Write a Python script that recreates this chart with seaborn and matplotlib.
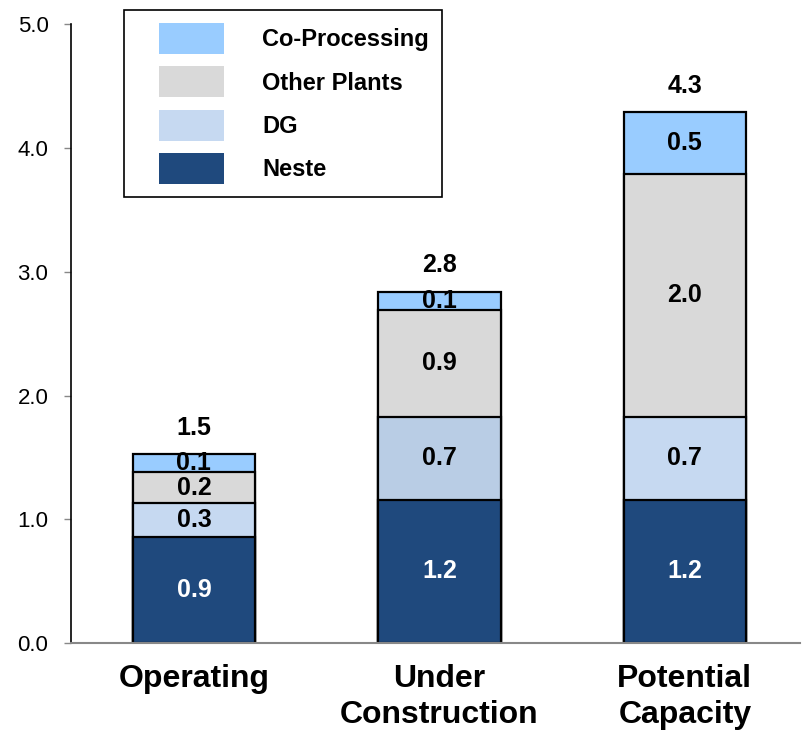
import numpy as np
import seaborn as sns
import matplotlib
matplotlib.use("Agg")
import matplotlib.pyplot as plt
from matplotlib.patches import Patch, Rectangle
from matplotlib.legend_handler import HandlerPatch

# Data (stack order: bottom -> top)
categories = ["Operating", "Under\nConstruction", "Potential\nCapacity"]
neste = [0.86, 1.16, 1.16]
dg = [0.27, 0.67, 0.67]
other_plants = [0.249, 0.86, 1.96]
co_processing = [0.149, 0.149, 0.50]
series_names = ["Neste", "DG", "Other Plants", "Co-Processing"]
y_ticks = [0, 1, 2, 3, 4, 5]

# colours
c_neste = "#1F497D"
c_dg = "#C6D9F1"
c_dg_uc = "#B9CDE5"
c_other = "#D9D9D9"
c_co = "#99CCFF"
palettes = [
    [c_neste] * 3,
    [c_dg, c_dg_uc, c_dg],
    [c_other] * 3,
    [c_co] * 3,
]
legend_colors = [c_neste, c_dg, c_other, c_co]

sns.set_theme(style="white")
plt.rcParams["font.family"] = ["Liberation Sans", "DejaVu Sans"]

fig = plt.figure(figsize=(8.02, 7.30), dpi=100)
ax = fig.add_axes([70.7 / 802, 1 - 643.3 / 730, (800 - 70.7) / 802, (643.3 - 24) / 730])

layers = [neste, dg, other_plants, co_processing]
cum = np.cumsum(layers, axis=0)

# stacked bars: draw cumulative heights from the top layer down
for i in reversed(range(len(layers))):
    sns.barplot(x=categories, y=cum[i], hue=categories, palette=palettes[i],
                dodge=False, saturation=1, width=0.5, edgecolor="black",
                linewidth=1.6, legend=False, errorbar=None, ax=ax)

# segment labels
for j in range(len(categories)):
    for i, layer in enumerate(layers):
        mid = cum[i][j] - layer[j] / 2
        ax.text(j, mid, f"{layer[j]:.1f}", ha="center", va="center",
                fontsize=18, fontweight="bold",
                color="white" if i == 0 else "black")
    ax.annotate(f"{cum[-1][j]:.1f}", (j, cum[-1][j]), xytext=(0, 19),
                textcoords="offset points", ha="center", va="center",
                fontsize=18, fontweight="bold", color="black")

ax.set_ylim(0, 5)
ax.set_xlim(-0.502, 2.469)
ax.set_yticks(y_ticks)
ax.set_yticklabels([f"{t:.1f}" for t in y_ticks])
ax.set_xlabel("")
ax.set_ylabel("")

sns.despine(ax=ax)
ax.spines["left"].set_color("black")
ax.spines["left"].set_linewidth(1.2)
ax.spines["bottom"].set_color("#888888")
ax.spines["bottom"].set_linewidth(1.5)

ax.tick_params(axis="y", left=True, length=5, width=1, color="#888888",
               direction="out", labelsize=16, pad=11, labelcolor="black")
ax.tick_params(axis="x", bottom=False, length=0, pad=15, labelsize=23,
               labelcolor="black")
for lbl in ax.get_xticklabels():
    lbl.set_fontweight("bold")
    lbl.set_linespacing(1.25)


# legend: boxes pushed to the right of the handle area
def shifted_box(legend, orig_handle, xdescent, ydescent, width, height, fontsize):
    return Rectangle((-xdescent + 0.25 * width, -ydescent), 0.75 * width, height)


handles = [Patch(facecolor=c, edgecolor="none", label=n)
           for c, n in zip(legend_colors, series_names)][::-1]
leg = fig.legend(handles=handles, loc="upper left",
                 bbox_to_anchor=(124 / 802, 1 - 10 / 730),
                 bbox_transform=fig.transFigure,
                 prop={"size": 17, "weight": "bold"}, labelcolor="black",
                 handlelength=3.69, handleheight=1.65, handletextpad=1.6,
                 labelspacing=0.52, borderpad=0.55, borderaxespad=0,
                 fancybox=False, framealpha=1,
                 handler_map={Patch: HandlerPatch(patch_func=shifted_box)})
leg.get_frame().set_edgecolor("black")
leg.get_frame().set_linewidth(1.2)

fig.savefig("out.png", dpi=100)
